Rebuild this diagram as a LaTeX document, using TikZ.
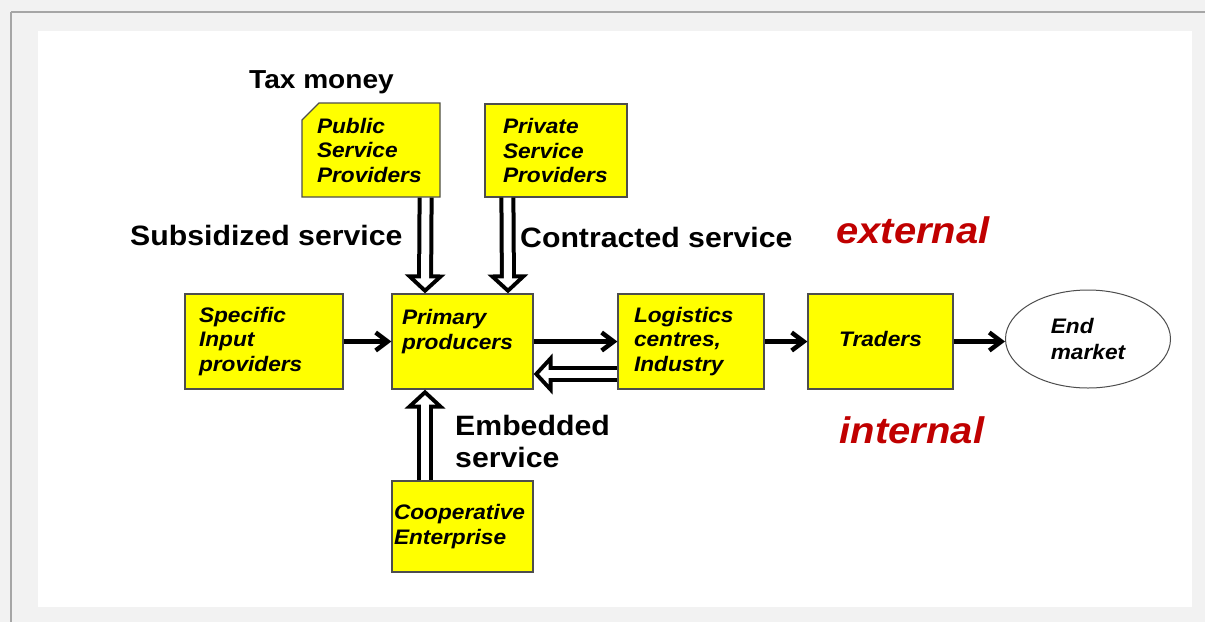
\documentclass[tikz,border=0pt]{standalone}
\usepackage{fontspec}
\setmainfont{Liberation Sans}[FakeStretch=1.08]
\usepackage{xcolor}
\usetikzlibrary{arrows.meta,shapes.geometric,calc}

\definecolor{pagegray}{HTML}{F2F2F2}
\definecolor{framegray}{HTML}{A6A6A6}
\definecolor{boxyellow}{HTML}{FFFF00}
\definecolor{boxedge}{HTML}{4D4D4D}
\definecolor{labelred}{HTML}{C00000}

\tikzset{
    flowbox/.style={draw=boxedge, line width=1.2pt, fill=boxyellow, minimum height=95pt,
        inner ysep=0pt, align=left, font=\fontsize{21}{24.5}\selectfont\bfseries\itshape},
    biglabel/.style={inner sep=0pt, font=\fontsize{28}{32}\selectfont\bfseries},
    sidelabel/.style={inner sep=0pt, text=labelred, font=\fontsize{37}{40}\selectfont\bfseries\itshape},
    flowarrow/.style={line width=4.5pt, -{Straight Barb[length=12pt,width=18pt]}},
    hollowarrow/.style={draw=black, line width=16pt, -{Triangle[length=19pt,width=40pt]},
        postaction={draw=white, line width=8pt, shorten >=5.5pt,
            -{Triangle[length=9.5pt,width=20pt,color=white]}}}
}

\begin{document}
\begin{tikzpicture}[x=1pt,y=-1pt]
    \useasboundingbox (0,0) rectangle (1205,622);
    \fill[pagegray] (0,0) rectangle (1205,622);
    \draw[framegray, line width=2.5pt] (11,12) -- (1205,12);
    \draw[framegray, line width=1.5pt] (11,12) -- (11,622);
    \fill[white] (38,31) rectangle (1192,607);

    % public box has one snipped corner
    \filldraw[draw=boxedge, line width=1.2pt, fill=boxyellow]
        (302,120) -- (319,103) -- (440,103) -- (440,197) -- (302,197) -- cycle;

    \node[flowbox, draw=none, fill=none, minimum height=94pt, text width=108pt, inner xsep=15pt] (pub) at (371,150) {Public\\Service\\Providers};
    \node[flowbox, minimum height=93pt, text width=106pt, inner xsep=18pt] (priv) at (556,150.5) {Private\\Service\\Providers};
    \node[flowbox, text width=130pt, inner xsep=14pt] (spec) at (264,341.5) {Specific\\Input\\providers};
    \node[flowbox, text width=121pt, inner xsep=10pt] (prim) at (462.5,341.5) {Primary\\producers\\~};
    \node[flowbox, text width=114pt, inner xsep=16pt] (logi) at (691,341.5) {Logistics\\centres,\\Industry};
    \node[flowbox, text width=117pt, inner xsep=14pt, align=center, text depth=6pt] (trad) at (880.5,341.5) {Traders};
    \node[flowbox, minimum height=91pt, text width=137pt, inner xsep=2pt] (coop) at (462.5,526.5) {Cooperative\\Enterprise};
    \node[ellipse, draw=boxedge, line width=1pt, minimum width=165pt, minimum height=98pt, inner sep=0pt,
        align=left, font=\fontsize{21}{26}\selectfont\bfseries\itshape] (endm) at (1088,339) {End\\market};

    \node[biglabel, font=\fontsize{26}{30}\selectfont\bfseries, anchor=base west] (tax) at (249,88) {Tax money};
    \node[biglabel, anchor=base west] (subs) at (130,245) {Subsidized service};
    \node[biglabel, anchor=base west] (contr) at (520,247) {Contracted service};
    \node[biglabel, anchor=west, align=left] (emb) at (455,441) {Embedded\\service};
    \node[sidelabel, anchor=base] (ext) at (913,243) {external};
    \node[sidelabel, anchor=base] (int) at (912,443) {internal};

    \draw[flowarrow] (spec) -- (prim);
    \draw[flowarrow] (prim) -- (logi);
    \draw[flowarrow] (logi) -- (trad);
    \draw[flowarrow] (trad.east) -- (trad.east -| endm.west);

    \draw[hollowarrow] ([xshift=-15pt]pub.south east) -- ([xshift=-37.5pt]prim.north);
    \draw[hollowarrow] ([xshift=23pt]priv.south west) -- ([xshift=45.5pt]prim.north);
    \draw[hollowarrow] ([xshift=-37.5pt]coop.north) -- ([xshift=-37.5pt]prim.south);
    \draw[hollowarrow] ([yshift=-32.5pt]logi.west) -- ([yshift=-32.5pt]prim.east);
\end{tikzpicture}
\end{document}
